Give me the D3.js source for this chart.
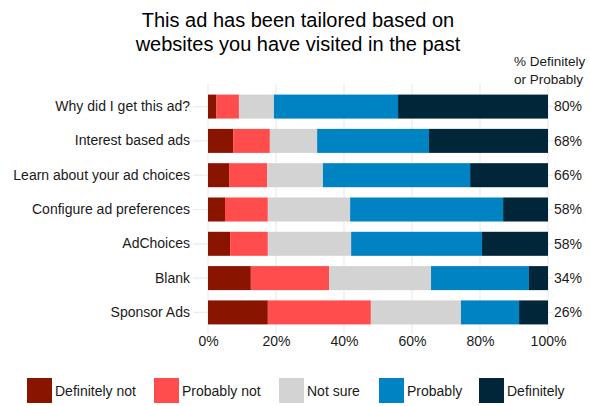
<!DOCTYPE html>
<html>
<head>
<meta charset="utf-8">
<script src="https://cdn.jsdelivr.net/npm/d3@7"></script>
<style>
  body { margin: 0; background: #fff; }
  text { font-family: "Liberation Sans", Arial, Helvetica, sans-serif; }
</style>
</head>
<body>
<div id="chart"></div>
<script>
const questions = [
  "Why did I get this ad?",
  "Interest based ads",
  "Learn about your ad choices",
  "Configure ad preferences",
  "AdChoices",
  "Blank",
  "Sponsor Ads"
];
const responses = ["Definitely not", "Probably not", "Not sure", "Probably", "Definitely"];
const colors = ["#891400", "#ff4c4c", "#d3d3d3", "#0083c3", "#012639"];

// percentages per question, in the order of responses
const definitelyNot = [2.5, 7.4, 6.2, 5.0, 6.5, 12.6, 17.6];
const probablyNot   = [6.6, 10.8, 11.2, 12.6, 11.1, 23.0, 30.3];
const notSure       = [10.3, 13.9, 16.4, 24.2, 24.5, 30.0, 26.5];
const probably      = [36.5, 32.9, 43.3, 45.0, 38.5, 28.8, 17.1];
const definitely    = [44.1, 35.0, 22.9, 13.2, 19.4, 5.6, 8.5];
const positiveLabels = ["80%", "68%", "66%", "58%", "58%", "34%", "26%"];
const xTicks = [0, 20, 40, 60, 80, 100];

const series = [definitelyNot, probablyNot, notSure, probably, definitely];
const data = questions.map((q, i) => {
  const row = { question: q };
  responses.forEach((r, j) => { row[r] = series[j][i]; });
  return row;
});
const stacked = d3.stack().keys(responses)(data);

const width = 590, height = 406;
const svg = d3.select("#chart")
  .append("svg")
  .attr("width", width)
  .attr("height", height);

const x = d3.scaleLinear().domain([0, 100]).range([208, 548]);
const y = d3.scaleBand().domain(questions).range([86, 333])
  .paddingInner(0.3).paddingOuter(0.25);
const color = d3.scaleOrdinal().domain(responses).range(colors);

// grid
svg.append("g")
  .selectAll("line")
  .data(xTicks)
  .join("line")
  .attr("x1", d => x(d)).attr("x2", d => x(d))
  .attr("y1", 84).attr("y2", 334)
  .attr("stroke", "#ebebeb").attr("stroke-width", 1.2);

svg.append("g")
  .selectAll("line")
  .data(questions)
  .join("line")
  .attr("x1", 193).attr("x2", 553)
  .attr("y1", d => y(d) + y.bandwidth() / 2)
  .attr("y2", d => y(d) + y.bandwidth() / 2)
  .attr("stroke", "#ebebeb").attr("stroke-width", 1.2);

// bars
svg.append("g")
  .selectAll("g")
  .data(stacked)
  .join("g")
  .attr("fill", d => color(d.key))
  .selectAll("rect")
  .data(d => d)
  .join("rect")
  .attr("x", d => x(d[0]))
  .attr("y", d => y(d.data.question))
  .attr("width", d => x(d[1]) - x(d[0]))
  .attr("height", y.bandwidth());

// y axis labels
const yAxis = svg.append("g")
  .attr("transform", "translate(190,0)")
  .call(d3.axisLeft(y).tickSize(0).tickPadding(0));
yAxis.select(".domain").remove();
yAxis.selectAll("text")
  .style("font-size", "14px")
  .attr("fill", "#1a1a1a")
  .attr("font-family", "Liberation Sans, Arial, sans-serif");

// x axis labels
const xAxis = svg.append("g")
  .attr("transform", "translate(0,336)")
  .call(d3.axisBottom(x).tickValues(xTicks).tickFormat(d => d + "%").tickSize(0).tickPadding(0));
xAxis.select(".domain").remove();
xAxis.selectAll("text")
  .style("font-size", "14px")
  .attr("fill", "#1a1a1a")
  .attr("font-family", "Liberation Sans, Arial, sans-serif");

// right labels
svg.append("g")
  .selectAll("text")
  .data(questions)
  .join("text")
  .attr("x", 554)
  .attr("y", d => y(d) + y.bandwidth() / 2)
  .attr("dy", "0.35em")
  .style("font-size", "14px")
  .attr("fill", "#1a1a1a")
  .text((d, i) => positiveLabels[i]);

svg.append("text")
  .attr("x", 514).attr("y", 66)
  .style("font-size", "13.5px").attr("fill", "#1a1a1a")
  .text("% Definitely");
svg.append("text")
  .attr("x", 514).attr("y", 84)
  .style("font-size", "13.5px").attr("fill", "#1a1a1a")
  .text("or Probably");

// title
svg.append("text")
  .attr("x", 298).attr("y", 27)
  .attr("text-anchor", "middle")
  .style("font-size", "20px").attr("fill", "#000")
  .text("This ad has been tailored based on");
svg.append("text")
  .attr("x", 298).attr("y", 51)
  .attr("text-anchor", "middle")
  .style("font-size", "20px").attr("fill", "#000")
  .text("websites you have visited in the past");

// legend
const legendX = [27, 154, 279, 379, 479];
const legend = svg.append("g")
  .selectAll("g")
  .data(responses)
  .join("g")
  .attr("transform", (d, i) => `translate(${legendX[i]},378)`);
legend.append("rect")
  .attr("width", 25).attr("height", 25)
  .attr("fill", d => color(d));
legend.append("text")
  .attr("x", 28).attr("y", 13).attr("dy", "0.35em")
  .style("font-size", "14px").attr("fill", "#1a1a1a")
  .text(d => d);
</script>
</body>
</html>
